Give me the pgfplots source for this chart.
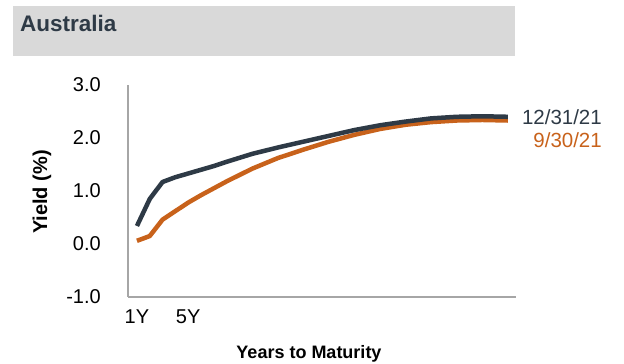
\documentclass[border=0pt]{standalone}
\usepackage{pgfplots}
\pgfplotsset{compat=1.18}
\usepackage{fontspec}
\setmainfont{Liberation Sans}
\definecolor{dark}{HTML}{2E3A46}
\definecolor{rust}{HTML}{C8621B}
\definecolor{hdr}{HTML}{D9D9D9}
\definecolor{axgray}{HTML}{A6A6A6}

\begin{document}
\begin{tikzpicture}
% page frame, 1pt = 1px of the reference; axis box lower left at (0,0)
\path (-128pt,-67pt) rectangle (496pt,297pt);
\fill[hdr] (-115pt,241pt) rectangle (387pt,291pt);
\node[anchor=base west, inner sep=0, text=dark,
      font=\fontsize{22.5}{27}\selectfont\bfseries] at (-108pt,265pt) {Australia};

\begin{axis}[
    name=ax,
    scale only axis, width=388pt, height=212pt,
    xmin=0.3, xmax=30.63, ymin=-1, ymax=3,
    axis x line=bottom, axis y line=left,
    axis line style={axgray, line width=2pt, -},
    xtick={1,5}, xticklabels={1Y,5Y},
    ytick={-1,0,1,2,3}, yticklabels={-1.0,0.0,1.0,2.0,3.0},
    major tick length=0pt,
    tick label style={font=\fontsize{20}{22}\selectfont, inner sep=0pt},
    yticklabel style={xshift=-27pt},
    xticklabel style={yshift=-13pt},
    clip=false,
  ]
  \addplot[rust, line width=4.5pt, line join=round] coordinates {
    (1,0.06) (2,0.15) (3,0.46) (4,0.62) (5,0.78) (6,0.92) (7,1.05) (8,1.18)
    (10,1.42) (12,1.62) (14,1.78) (16,1.93) (18,2.06) (20,2.17) (22,2.25)
    (24,2.30) (26,2.33) (28,2.34) (30,2.33)
  };
  \addplot[dark, line width=4.5pt, line join=round] coordinates {
    (1,0.34) (2,0.85) (3,1.17) (4,1.26) (5,1.33) (6,1.40) (7,1.47) (8,1.55)
    (10,1.70) (12,1.82) (14,1.93) (16,2.04) (18,2.15) (20,2.24) (22,2.31)
    (24,2.37) (26,2.40) (28,2.41) (30,2.40)
  };
\end{axis}

\node[anchor=east, inner sep=0, text=dark, font=\fontsize{20.5}{22}\selectfont] at (474pt,180pt) {12/31/21};
\node[anchor=east, inner sep=0, text=rust, font=\fontsize{20.5}{22}\selectfont] at (474pt,157pt) {9/30/21};
\node[rotate=90, inner sep=0, font=\fontsize{20}{22}\selectfont\bfseries] at (-86pt,105pt) {Yield (\%)};
\node[inner sep=0, font=\fontsize{18}{20}\selectfont\bfseries] at (181pt,-57pt) {Years to Maturity};
\end{tikzpicture}
\end{document}
